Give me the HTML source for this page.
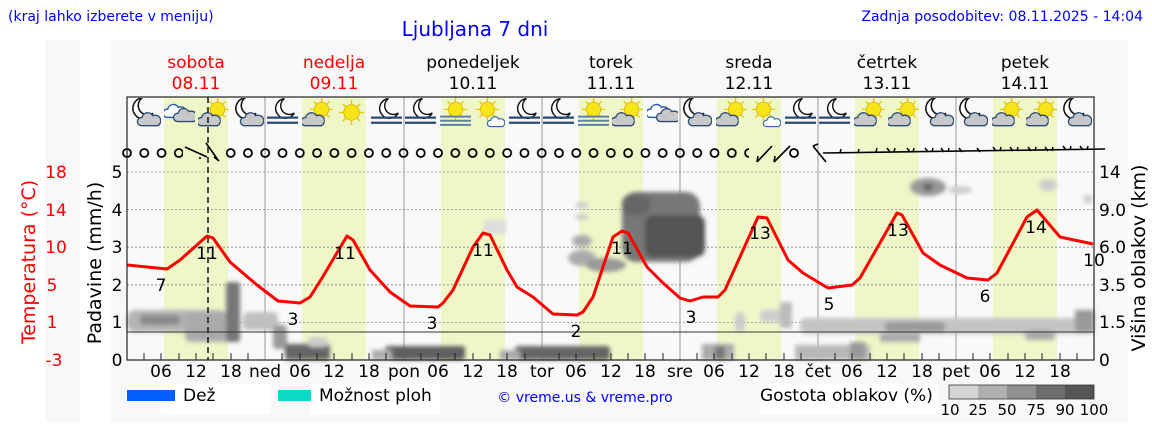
<!DOCTYPE html>
<html><head><meta charset="utf-8"><style>
body{margin:0;background:#fff;}
svg{display:block;font-family:"DejaVu Sans","Liberation Sans",sans-serif;}
</style></head><body>
<svg width="1152" height="443" viewBox="0 0 1152 443" xmlns="http://www.w3.org/2000/svg">
<defs>
<symbol id="moon" viewBox="0 0 30 30"><path d="M16 3 A11 11 0 1 0 27 19 A9 9 0 1 1 16 3 Z" fill="#fff" stroke="#111" stroke-width="1.6"/></symbol>
<symbol id="cloud" viewBox="0 0 30 30"><path d="M6 26 A5 5 0 0 1 7 16 A7 7 0 0 1 20 14 A6 6 0 0 1 26 26 Z" fill="#c8c8c8" stroke="#2a4a70" stroke-width="1.6"/></symbol>
<symbol id="bcloud" viewBox="0 0 30 30"><path d="M6 26 A5 5 0 0 1 7 16 A7 7 0 0 1 20 14 A6 6 0 0 1 26 26 Z" fill="#fff" stroke="#2a60b0" stroke-width="1.8"/></symbol>
<symbol id="sun" viewBox="0 0 30 30"><g stroke="#e8c800" stroke-width="1.5"><line x1="15" y1="2" x2="15" y2="28"/><line x1="2" y1="15" x2="28" y2="15"/><line x1="6" y1="6" x2="24" y2="24"/><line x1="24" y1="6" x2="6" y2="24"/></g><circle cx="15" cy="15" r="8" fill="#f7e51a" stroke="#e0b800"/></symbol>
<symbol id="fog" viewBox="0 0 30 30"><g stroke="#2a4a70" stroke-width="2.2"><line x1="0" y1="19" x2="30" y2="19"/><line x1="0" y1="24" x2="30" y2="24"/></g></symbol>
<symbol id="mc" viewBox="0 0 30 30"><use href="#moon" x="-3" y="-3" width="28" height="28"/><use href="#cloud" x="6" y="6" width="24" height="24"/></symbol>
<symbol id="sc" viewBox="0 0 30 30"><use href="#sun" x="6" y="-2" width="26" height="26"/><use href="#cloud" x="-2" y="6" width="24" height="24"/></symbol>
<symbol id="ss" viewBox="0 0 30 30"><use href="#sun" x="0" y="-2" width="26" height="26"/><use href="#bcloud" x="12" y="12" width="18" height="18"/></symbol>
<symbol id="su" viewBox="0 0 30 30"><use href="#sun" x="1" y="0" width="28" height="28"/></symbol>
<symbol id="mf" viewBox="0 0 30 30"><use href="#moon" x="3" y="-2" width="26" height="26"/><use href="#fog" x="0" y="0" width="30" height="30"/></symbol>
<symbol id="sf" viewBox="0 0 30 30"><use href="#sun" x="2" y="-2" width="26" height="26"/><g stroke="#6080a8" stroke-width="2"><line x1="0" y1="18" x2="30" y2="18"/><line x1="0" y1="22" x2="30" y2="22"/><line x1="0" y1="26" x2="30" y2="26"/></g></symbol>
<symbol id="cc" viewBox="0 0 30 30"><use href="#bcloud" x="-2" y="-2" width="24" height="24"/><use href="#cloud" x="8" y="2" width="24" height="24"/></symbol>
<pattern id="circ" x="127" y="146" width="17.28" height="14" patternUnits="userSpaceOnUse"><circle cx="0" cy="7" r="4" fill="none" stroke="#000" stroke-width="1.8"/><circle cx="17.28" cy="7" r="4" fill="none" stroke="#000" stroke-width="1.8"/></pattern>
<filter id="bl"><feGaussianBlur stdDeviation="2"/></filter>
</defs>
<rect x="45" y="40" width="35" height="382" fill="#f8f8f8"/>
<rect x="110" y="40" width="1018" height="382" fill="#f8f8f8"/>
<rect x="127" y="97" width="967" height="263" fill="#f9f9f9"/>
<g fill="#eff7c8">
<rect x="164" y="97" width="64" height="263"/><rect x="302" y="97" width="64" height="263"/><rect x="441" y="97" width="64" height="263"/><rect x="579" y="97" width="64" height="263"/><rect x="717" y="97" width="64" height="263"/><rect x="855" y="97" width="64" height="263"/><rect x="993" y="97" width="64" height="263"/>
</g>
<g stroke="#888" stroke-width="0.8" stroke-dasharray="2,2">
<line x1="127" y1="172" x2="1094" y2="172"/><line x1="127" y1="209.6" x2="1094" y2="209.6"/><line x1="127" y1="247.2" x2="1094" y2="247.2"/><line x1="127" y1="284.8" x2="1094" y2="284.8"/><line x1="127" y1="322.4" x2="1094" y2="322.4"/>
</g>
<g stroke="#999" stroke-width="1"><line x1="265" y1="97" x2="265" y2="360"/><line x1="404" y1="97" x2="404" y2="360"/><line x1="542" y1="97" x2="542" y2="360"/><line x1="680" y1="97" x2="680" y2="360"/><line x1="818" y1="97" x2="818" y2="360"/><line x1="956" y1="97" x2="956" y2="360"/></g>
<g filter="url(#bl)">
<rect x="127" y="310" width="100" height="22" rx="8" fill="#b4b4b4"/>
<rect x="140" y="315" width="40" height="10" rx="4" fill="#8a8a8a"/>
<rect x="185" y="312" width="55" height="30" rx="5" fill="#aaa"/>
<rect x="226" y="282" width="14" height="60" rx="3" fill="#777"/>
<rect x="243" y="312" width="35" height="18" rx="5" fill="#c0c0c0"/>
<rect x="273" y="325" width="14" height="24" rx="4" fill="#999"/>
<rect x="285" y="344" width="45" height="16" rx="3" fill="#666"/>
<rect x="308" y="337" width="20" height="10" rx="4" fill="#ccc"/>
<rect x="385" y="346" width="80" height="14" rx="3" fill="#5e5e5e"/>
<rect x="372" y="350" width="20" height="10" fill="#aaa"/>
<rect x="515" y="346" width="95" height="14" rx="3" fill="#666"/>
<rect x="500" y="350" width="20" height="10" fill="#aaa"/>
<rect x="622" y="192" width="78" height="70" rx="14" fill="#777"/>
<rect x="645" y="215" width="60" height="42" rx="8" fill="#555"/>
<rect x="622" y="195" width="28" height="20" rx="8" fill="#666"/>
<ellipse cx="582" cy="217" rx="7" ry="3" fill="#ccc"/><ellipse cx="582" cy="205" rx="7" ry="3" fill="#ccc"/>
<ellipse cx="582" cy="241" rx="10" ry="6" fill="#aaa"/>
<ellipse cx="582" cy="258" rx="14" ry="8" fill="#aaa"/>
<ellipse cx="606" cy="265" rx="20" ry="7" fill="#999"/>
<rect x="484" y="220" width="22" height="14" fill="#ddd"/>
<rect x="702" y="344" width="32" height="16" fill="#aaa"/><rect x="715" y="346" width="10" height="14" fill="#777"/>
<rect x="795" y="345" width="75" height="15" fill="#b8b8b8"/><rect x="850" y="342" width="15" height="18" fill="#999"/>
<rect x="760" y="310" width="30" height="12" rx="4" fill="#ccc"/><rect x="780" y="302" width="12" height="26" fill="#bbb"/>
<rect x="735" y="313" width="10" height="18" fill="#ccc"/>
<rect x="800" y="318" width="294" height="16" rx="6" fill="#c4c4c4"/>
<rect x="885" y="322" width="60" height="10" rx="4" fill="#999"/>
<rect x="1025" y="330" width="30" height="10" rx="3" fill="#aaa"/>
<rect x="880" y="334" width="40" height="8" fill="#aaa"/>
<rect x="1075" y="310" width="19" height="22" fill="#999"/>
<ellipse cx="928" cy="187" rx="18" ry="9" fill="#999"/><ellipse cx="928" cy="187" rx="5" ry="3" fill="#555"/>
<ellipse cx="960" cy="190" rx="12" ry="4" fill="#ccc"/>
<ellipse cx="1048" cy="185" rx="9" ry="6" fill="#ccc"/>
<rect x="1084" y="195" width="8" height="8" fill="#ccc"/>
</g>
<line x1="127" y1="332" x2="1094" y2="332" stroke="#333" stroke-width="1"/>
<g>
<use href="#mc" x="130" y="98" width="31" height="31"/><use href="#cc" x="164" y="98" width="31" height="31"/><use href="#sc" x="198" y="98" width="31" height="31"/><use href="#mc" x="233" y="98" width="31" height="31"/>
<use href="#mf" x="267" y="98" width="31" height="31"/><use href="#sc" x="302" y="98" width="31" height="31"/><use href="#su" x="336" y="98" width="31" height="31"/><use href="#mf" x="371" y="98" width="31" height="31"/>
<use href="#mf" x="405" y="98" width="31" height="31"/><use href="#sf" x="440" y="98" width="31" height="31"/><use href="#ss" x="474" y="98" width="31" height="31"/><use href="#mf" x="509" y="98" width="31" height="31"/>
<use href="#mf" x="543" y="98" width="31" height="31"/><use href="#sf" x="578" y="98" width="31" height="31"/><use href="#sc" x="612" y="98" width="31" height="31"/><use href="#cc" x="647" y="98" width="31" height="31"/>
<use href="#mc" x="681" y="98" width="31" height="31"/><use href="#sc" x="716" y="98" width="31" height="31"/><use href="#ss" x="750" y="98" width="31" height="31"/><use href="#mf" x="785" y="98" width="31" height="31"/>
<use href="#mf" x="819" y="98" width="31" height="31"/><use href="#sc" x="854" y="98" width="31" height="31"/><use href="#sc" x="888" y="98" width="31" height="31"/><use href="#mc" x="923" y="98" width="31" height="31"/>
<use href="#mc" x="957" y="98" width="31" height="31"/><use href="#sc" x="992" y="98" width="31" height="31"/><use href="#sc" x="1026" y="98" width="31" height="31"/><use href="#mc" x="1061" y="98" width="31" height="31"/>
</g>
<rect x="122" y="146" width="61" height="14" fill="url(#circ)"/>
<rect x="226" y="146" width="523" height="14" fill="url(#circ)"/>
<circle cx="794" cy="153" r="4" fill="none" stroke="#000" stroke-width="1.8"/>
<g stroke="#000" stroke-width="1.6" fill="none">
<path d="M185 147 L207 157 M200 157 L200 159"/><path d="M206 143 L218 160 M214 157 L219 161"/>
<path d="M757 162 L772 146 M757 162 L758 156"/><path d="M774 162 L790 146 M774 162 L775 156"/>
<path d="M813 146 L826 162 M813 146 L818 144"/>
<path d="M823 153 L1105 149"/>
</g>
<g stroke="#000" stroke-width="1.5">
<path d="M840 153 l1 -4 M858 153 l1 -4 M876 152 l1 -4 M890 152 l-3 -4 M894 152 l1 -4 M910 152 l-3 -4 M913 152 l1 -4 M928 152 l-3 -4 M932 152 l1 -4 M944 152 l-3 -4 M948 152 l1 -4 M962 152 l-3 -4 M980 152 l-3 -4 M996 151 l-3 -4 M1000 151 l1 -4 M1013 151 l-3 -4 M1017 151 l1 -4 M1031 151 l-3 -4 M1035 151 l1 -4 M1048 151 l-3 -4 M1052 151 l1 -4 M1066 150 l-3 -4 M1070 150 l1 -4 M1083 150 l-3 -4 M1087 150 l1 -4"/>
</g>
<line x1="208" y1="97" x2="208" y2="360" stroke="#222" stroke-width="1.6" stroke-dasharray="6,4"/>
<polyline fill="none" stroke="#f00" stroke-width="3" stroke-linejoin="round" points="127,265 167,269 180,260 207,236 213,238 230,262 257,285 278,301 300,303 310,297 322,278 347,236 353,240 370,270 390,292 410,306 438,307 443,303 453,290 473,247 483,233 490,235 507,270 517,287 533,297 553,314 577,315 583,312 593,297 613,237 622,231 628,233 647,267 663,283 680,298 690,301 703,297 718,297 725,290 758,217 767,218 788,260 803,273 828,288 852,285 860,278 897,213 902,215 923,253 940,265 967,278 988,280 997,273 1027,217 1037,210 1060,237 1093,244"/>
<g font-size="17" fill="#000" text-anchor="middle">
<text x="161" y="291">7</text><text x="207" y="259">11</text><text x="293" y="325">3</text><text x="345" y="259">11</text><text x="432" y="329">3</text><text x="483" y="256">11</text><text x="576" y="337">2</text><text x="622" y="254">11</text><text x="691" y="323">3</text><text x="760" y="239">13</text><text x="829" y="310">5</text><text x="898" y="236">13</text><text x="985" y="302">6</text><text x="1036" y="233">14</text><text x="1094" y="266">10</text>
</g>
<rect x="127" y="97" width="967" height="263" fill="none" stroke="#222" stroke-width="1.2"/>
<path stroke="#222" stroke-width="1" d="M144 360v-7M161 360v-7M179 360v-7M196 360v-7M213 360v-7M231 360v-7M248 360v-7M282 360v-7M300 360v-7M317 360v-7M334 360v-7M352 360v-7M369 360v-7M386 360v-7M421 360v-7M438 360v-7M455 360v-7M473 360v-7M490 360v-7M507 360v-7M525 360v-7M559 360v-7M576 360v-7M594 360v-7M611 360v-7M628 360v-7M645 360v-7M663 360v-7M697 360v-7M714 360v-7M732 360v-7M749 360v-7M766 360v-7M784 360v-7M801 360v-7M835 360v-7M852 360v-7M870 360v-7M887 360v-7M904 360v-7M922 360v-7M939 360v-7M973 360v-7M990 360v-7M1008 360v-7M1025 360v-7M1042 360v-7M1060 360v-7M1077 360v-7"/>
<g font-size="17" fill="#000" text-anchor="middle">
<text x="161" y="377">06</text><text x="196" y="377">12</text><text x="231" y="377">18</text><text x="265" y="377">ned</text>
<text x="300" y="377">06</text><text x="334" y="377">12</text><text x="369" y="377">18</text><text x="404" y="377">pon</text>
<text x="438" y="377">06</text><text x="473" y="377">12</text><text x="507" y="377">18</text><text x="542" y="377">tor</text>
<text x="576" y="377">06</text><text x="611" y="377">12</text><text x="645" y="377">18</text><text x="680" y="377">sre</text>
<text x="714" y="377">06</text><text x="749" y="377">12</text><text x="784" y="377">18</text><text x="818" y="377">čet</text>
<text x="852" y="377">06</text><text x="887" y="377">12</text><text x="922" y="377">18</text><text x="956" y="377">pet</text>
<text x="990" y="377">06</text><text x="1025" y="377">12</text><text x="1060" y="377">18</text>
</g>
<g font-size="17" fill="#000" text-anchor="middle">
<text x="117" y="178">5</text><text x="117" y="216">4</text><text x="117" y="253">3</text><text x="117" y="291">2</text><text x="117" y="328">1</text><text x="117" y="366">0</text>
</g>
<g font-size="17" fill="#f00" text-anchor="middle">
<text x="56" y="178">18</text><text x="56" y="216">14</text><text x="56" y="253">10</text><text x="52" y="291">5</text><text x="52" y="328">1</text><text x="54" y="366">-3</text>
</g>
<g font-size="17" fill="#000" text-anchor="start">
<text x="1099" y="178">14</text><text x="1099" y="216">9.0</text><text x="1099" y="253">6.0</text><text x="1099" y="291">3.5</text><text x="1099" y="328">1.5</text><text x="1099" y="366">0</text>
</g>
<text transform="translate(35,262) rotate(-90)" font-size="19" fill="#f00" text-anchor="middle">Temperatura (°C)</text>
<text transform="translate(101,263) rotate(-90)" font-size="19" fill="#000" text-anchor="middle">Padavine (mm/h)</text>
<text transform="translate(1145,258) rotate(-90)" font-size="19" fill="#000" text-anchor="middle">Višina oblakov (km)</text>
<text x="8" y="21" font-size="14" fill="#00f">(kraj lahko izberete v meniju)</text>
<text x="475" y="36" font-size="20" fill="#00f" text-anchor="middle">Ljubljana 7 dni</text>
<text x="1143" y="21" font-size="14" fill="#00f" text-anchor="end">Zadnja posodobitev: 08.11.2025 - 14:04</text>
<g font-size="17" text-anchor="middle">
<text x="196" y="68" fill="#f00">sobota</text><text x="196" y="89" fill="#f00">08.11</text>
<text x="334" y="68" fill="#f00">nedelja</text><text x="334" y="89" fill="#f00">09.11</text>
<text x="473" y="68">ponedeljek</text><text x="473" y="89">10.11</text>
<text x="611" y="68">torek</text><text x="611" y="89">11.11</text>
<text x="749" y="68">sreda</text><text x="749" y="89">12.11</text>
<text x="887" y="68">četrtek</text><text x="887" y="89">13.11</text>
<text x="1025" y="68">petek</text><text x="1025" y="89">14.11</text>
</g>
<rect x="160" y="384" width="110" height="30" fill="#fff"/><rect x="310" y="384" width="130" height="30" fill="#fff"/><rect x="760" y="384" width="178" height="30" fill="#fff"/>
<rect x="127" y="390" width="48" height="11" fill="#0060ff"/>
<text x="183" y="401" font-size="17">Dež</text>
<rect x="278" y="390" width="33" height="11" fill="#10d8c8"/>
<text x="319" y="401" font-size="17">Možnost ploh</text>
<text x="585" y="402" font-size="14" fill="#00f" text-anchor="middle">© vreme.us &amp; vreme.pro</text>
<text x="760" y="401" font-size="17">Gostota oblakov (%)</text>
<rect x="949" y="385" width="29" height="14" fill="#d4d4d4"/><rect x="978" y="385" width="29" height="14" fill="#b0b0b0"/><rect x="1007" y="385" width="29" height="14" fill="#909090"/><rect x="1036" y="385" width="29" height="14" fill="#6e6e6e"/><rect x="1065" y="385" width="29" height="14" fill="#555"/>
<rect x="949" y="385" width="145" height="14" fill="none" stroke="#333" stroke-width="0.8"/>
<g font-size="15" text-anchor="middle"><text x="950" y="415">10</text><text x="978" y="415">25</text><text x="1007" y="415">50</text><text x="1036" y="415">75</text><text x="1065" y="415">90</text><text x="1094" y="415">100</text></g>
</svg>
</body></html>
